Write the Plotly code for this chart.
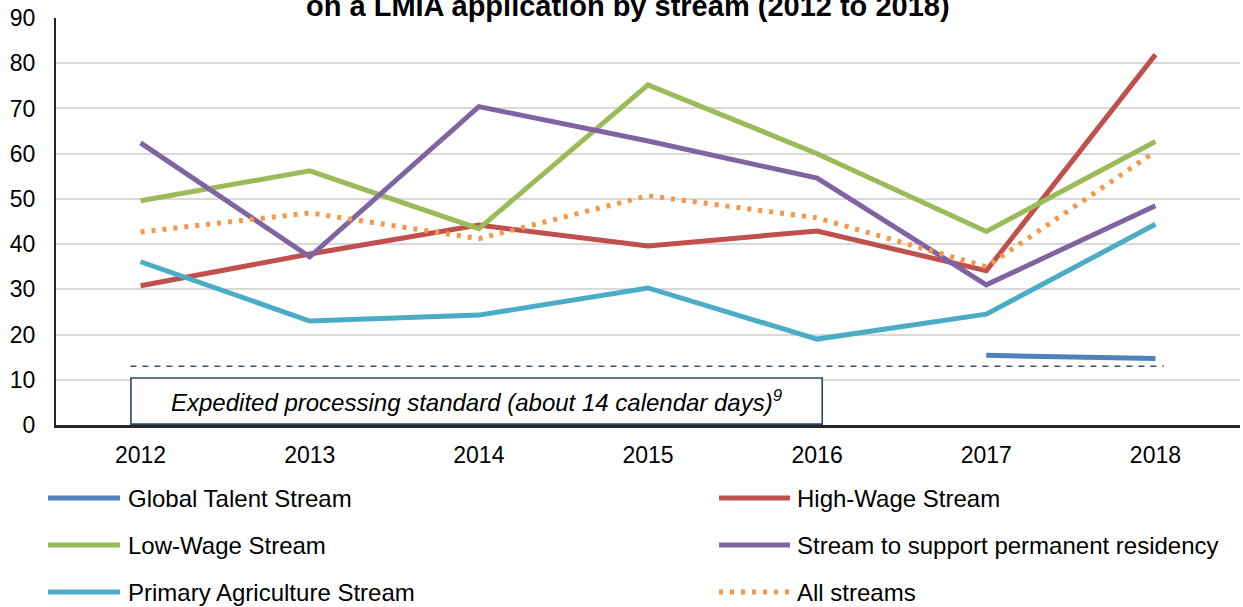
import plotly.graph_objects as go

years = ["2012", "2013", "2014", "2015", "2016", "2017", "2018"]
global_talent = [None, None, None, None, None, 15.4, 14.7]
high_wage = [30.8, 37.8, 44.2, 39.6, 42.9, 34.1, 81.9]
low_wage = [49.6, 56.2, 43.4, 75.2, 60.0, 42.8, 62.7]
perm_residency = [62.4, 37.2, 70.4, 62.8, 54.6, 31.0, 48.5]
primary_ag = [36.1, 23.0, 24.3, 30.3, 19.0, 24.5, 44.4]
all_streams = [42.7, 46.9, 41.2, 50.7, 45.8, 35.0, 60.5]
standard_days = 13

series_names = ["Global Talent Stream", "High-Wage Stream", "Low-Wage Stream",
                "Stream to support permanent residency", "Primary Agriculture Stream",
                "All streams"]
series_values = [global_talent, high_wage, low_wage, perm_residency, primary_ag, all_streams]
series_colors = ["#4F81BD", "#C0504D", "#9BBB59", "#8064A2", "#4BACC6", "#F79646"]
series_dash = ["solid", "solid", "solid", "solid", "solid", "4px,7px"]

W, H = 1243, 607
L, R, T, B = 56, 3, 18, 182
PW = W - L - R
PH = H - T - B

FONT = "Arial, Liberation Sans, sans-serif"


def px_x(px):
    return (px - L) / PW


def px_y(py):
    return (H - B - py) / PH


fig = go.Figure()
for name, vals, col, dash in zip(series_names, series_values, series_colors, series_dash):
    fig.add_trace(go.Scatter(
        x=years, y=vals, mode="lines", name=name,
        line=dict(color=col, width=5, dash=dash),
        connectgaps=False, showlegend=False,
    ))

# expedited processing standard reference line
fig.add_trace(go.Scatter(
    x=[-0.06, 6.05], y=[standard_days, standard_days], mode="lines",
    line=dict(color="#3B5272", width=1.6, dash="6px,6px"),
    showlegend=False, hoverinfo="skip", xaxis="x2",
))

shapes = []
annotations = []

# box with label
shapes.append(dict(type="rect", xref="x2", yref="y", x0=-0.057, x1=4.03, y0=0.2, y1=10.4,
                   line=dict(color="#2E4466", width=1.6), fillcolor="white", layer="above"))
annotations.append(dict(xref="x2", yref="y", x=(-0.057 + 4.03) / 2, y=5.2,
                        text="<i>Expedited processing standard (about 14 calendar days)<sup>9</sup></i>",
                        showarrow=False, font=dict(family=FONT, size=24, color="#000000"),
                        xanchor="center", yanchor="middle"))

# manual legend
legend_rows = [498, 545, 592]
legend_cols = [(48, 120, 126), (719, 790, 795)]
for i, (name, col, dash) in enumerate(zip(series_names, series_colors, series_dash)):
    row = legend_rows[i // 2]
    x0, x1, xt = legend_cols[i % 2]
    shapes.append(dict(type="line", xref="paper", yref="paper",
                       x0=px_x(x0), x1=px_x(x1), y0=px_y(row), y1=px_y(row),
                       line=dict(color=col, width=5, dash=dash)))
    annotations.append(dict(xref="paper", yref="paper", x=px_x(xt), y=px_y(row),
                            text=name, showarrow=False, xanchor="left", yanchor="middle",
                            font=dict(family=FONT, size=24, color="#000000")))

# title (partially cut at top, as in the source)
annotations.append(dict(xref="paper", yref="paper", x=px_x(628), y=px_y(6),
                        text="<b>on a LMIA application by stream (2012 to 2018)</b>",
                        showarrow=False, xanchor="center", yanchor="middle",
                        font=dict(family=FONT, size=29, color="#000000")))

fig.update_layout(
    width=W, height=H,
    margin=dict(l=L, r=R, t=T, b=B),
    paper_bgcolor="white", plot_bgcolor="white",
    font=dict(family=FONT, size=23, color="#000000"),
    showlegend=False,
    shapes=shapes, annotations=annotations,
    xaxis=dict(type="category", categoryorder="array", categoryarray=years,
               range=[-0.5, 6.5], showgrid=False, showline=True, linecolor="#262626",
               linewidth=2.5, ticks="outside", ticklen=8, tickcolor="rgba(0,0,0,0)",
               tickfont=dict(size=23), zeroline=False),
    xaxis2=dict(overlaying="x", range=[-0.5, 6.5], visible=False),
    yaxis=dict(range=[0, 90], dtick=10, showgrid=True, gridcolor="#D9D9D9", gridwidth=2,
               showline=True, linecolor="#262626", linewidth=2, ticks="outside",
               ticklen=14, tickcolor="rgba(0,0,0,0)", tickfont=dict(size=23), zeroline=False),
)

fig.write_html("out.html", config={"displayModeBar": False},
               post_script="document.body.style.margin='0';document.body.style.overflow='hidden';")
